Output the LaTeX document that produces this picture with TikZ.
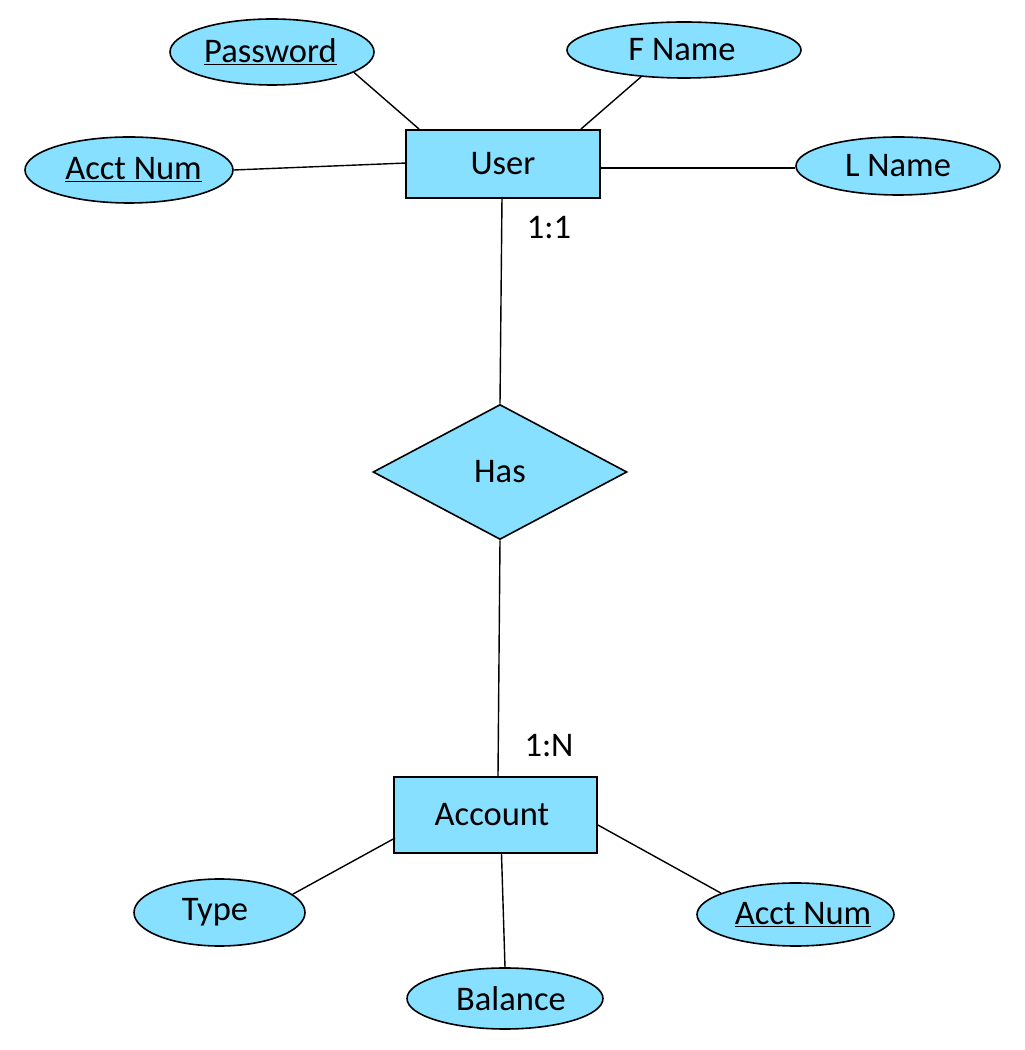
\documentclass[tikz,border=0pt]{standalone}
\usepackage{fontspec}
\setmainfont{Carlito}
\usetikzlibrary{shapes.geometric,calc}
\definecolor{erfill}{RGB}{135,224,255}
\newcommand{\padL}[2]{\makebox[0pt]{\hspace*{#1}#2}}
\newcommand{\padR}[2]{\makebox[0pt]{#2\hspace*{#1}}}
\begin{document}
\begin{tikzpicture}[x=1pt,y=1pt,
  every node/.style={font=\fontsize{34.5pt}{40pt}\selectfont, inner sep=0pt},
  attr/.style={ellipse, draw=black, fill=erfill, line width=1.6pt},
  entity/.style={rectangle, draw=black, fill=erfill, line width=1.8pt},
  rel/.style={diamond, draw=black, fill=erfill, line width=1.6pt},
  link/.style={draw=black, line width=1.4pt},
  card/.style={font=\fontsize{34.5pt}{40pt}\selectfont}]
\useasboundingbox[fill=white] (0,0) rectangle (1025,1050);
% entities
\node[entity, minimum width=194pt, minimum height=68pt] (user) at (503,886) {User};
\node[rel, minimum width=254pt, minimum height=135pt, aspect=1.88] (has) at (500,578) {Has};
\node[entity, minimum width=203pt, minimum height=76pt] (acct) at (495.5,235) {\padR{7pt}{Account}};
% user attributes
\node[attr, minimum width=204pt, minimum height=66pt] (pw) at (272,998) {\padR{3pt}{\underline{Password}}};
\node[attr, minimum width=234pt, minimum height=56pt] (fn) at (684,1000) {\padR{4pt}{F Name}};
\node[attr, minimum width=208pt, minimum height=66pt] (an1) at (129,880) {\padL{9pt}{\underline{Acct Num}}};
\node[attr, minimum width=204pt, minimum height=58pt] (ln) at (898,884) {L Name};
% account attributes
\node[attr, minimum width=171pt, minimum height=67pt] (type) at (219.5,137.5) {\padR{9pt}{Type}};
\node[attr, minimum width=196pt, minimum height=61pt] (bal) at (505,51.5) {\padL{12pt}{Balance}};
\node[attr, minimum width=197pt, minimum height=63pt] (an2) at (795.5,135.5) {\padL{15pt}{\underline{Acct Num}}};
% cardinalities
\node[card] (c1) at (549,822) {1:1};
\node[card] (c2) at (549,304) {1:N};
% connectors
\draw[link] (pw.-14) -- ($(user.north west)+(14,0)$);
\draw[link] (fn.-148) -- ($(user.north east)+(-20,0)$);
\draw[link] (an1.east) -- ($(user.west)+(2,1)$);
\draw[link] ($(user.east)+(0,-4)$) -- ($(ln.west)+(0,-2)$);
\draw[link] ($(user.south)+(-1,2)$) -- (has.north);
\draw[link] (has.south) -- ($(has.south |- acct.north)+(-2,0)$);
\draw[link] ($(acct.west)+(2,-23)$) -- (type.14);
\draw[link] ($(acct.south)+(6,0)$) -- (bal.north);
\draw[link] ($(acct.east)+(0,-10)$) -- (an2.164);
\end{tikzpicture}
\end{document}
